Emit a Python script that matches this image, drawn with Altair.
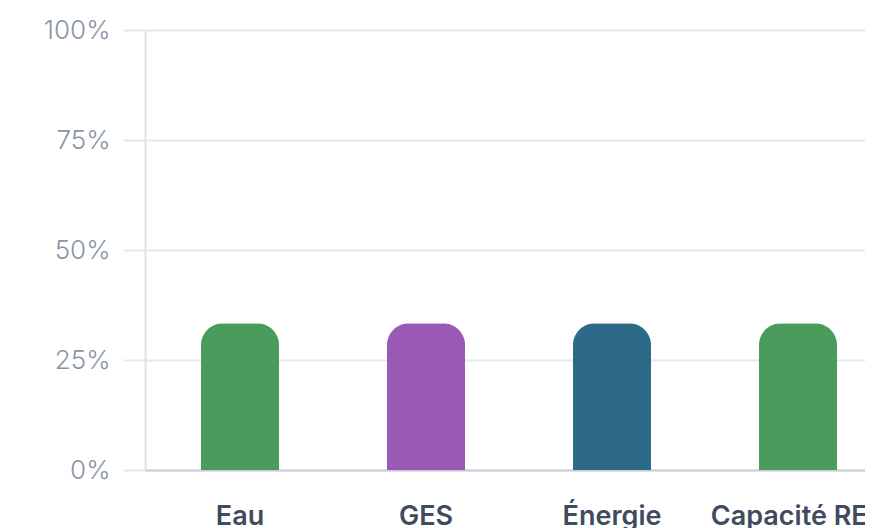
import altair as alt
import pandas as pd

categories = ["Eau", "GES", "Énergie", "Capacité REP"]
values = [0.3333, 0.3333, 0.3333, 0.3333]
colors = ["#4a9b5c", "#9b59b6", "#2d6a87", "#4a9b5c"]

df = pd.DataFrame({"cat": categories, "val": values, "color": colors})

chart = alt.Chart(df).mark_bar(
    cornerRadiusTopLeft=22, cornerRadiusTopRight=22
).encode(
    x=alt.X("cat:N", sort=categories, title=None,
            scale=alt.Scale(paddingInner=0.58, paddingOuter=0.301, range=[0, 748]),
            axis=alt.Axis(labelAngle=0, labelFont="Inter", labelFontSize=27,
                          labelFontWeight=600, labelColor="#3f4b5e",
                          labelPadding=33, ticks=False, domainColor="#c8ccd4",
                          domainWidth=2, grid=False, labelOverlap=False)),
    y=alt.Y("val:Q", title=None,
            scale=alt.Scale(domain=[0, 1]),
            axis=alt.Axis(values=[0, 0.25, 0.5, 0.75, 1], format=".0%",
                          labelFont="Inter", labelFontSize=26, labelFontWeight=300,
                          labelColor="#8a94a6", labelPadding=13,
                          tickSize=22, tickColor="#e2e8f0", tickWidth=2,
                          gridColor="#e2e8f0", gridWidth=2,
                          domainColor="#e2e2e2", domainWidth=2)),
    color=alt.Color("color:N", scale=None),
).properties(
    width=720, height=440,
    autosize=alt.AutoSizeParams(type="none"),
    padding={"left": 137, "top": 22, "right": 0, "bottom": 64},
).configure_view(stroke=None)

chart.save("out.html", embed_options={"renderer": "svg", "actions": False})
